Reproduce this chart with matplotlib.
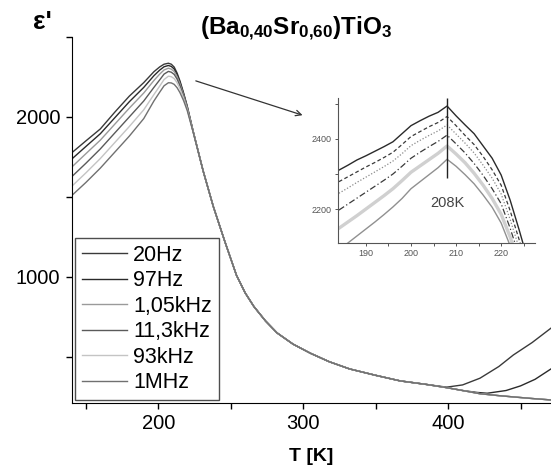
import matplotlib
matplotlib.use('Agg')
import matplotlib.pyplot as plt

plt.rcParams['font.family'] = ['Liberation Sans', 'DejaVu Sans']
plt.rcParams['mathtext.fontset'] = 'custom'
plt.rcParams['mathtext.rm'] = 'Liberation Sans'
plt.rcParams['mathtext.bf'] = 'Liberation Sans:bold'

# Main chart data: temperature [K] and permittivity per frequency
labels = ['20Hz', '97Hz', '1,05kHz', '11,3kHz', '93kHz', '1MHz']
colors = ['#3a3a3a', '#2a2a2a', '#9a9a9a', '#5a5a5a', '#c4c4c4', '#707070']

t_low = [140.7, 150, 160, 170, 180, 190, 197, 201, 204, 207, 209, 211, 213,
         215, 217.5, 220, 224]
eps_low = [
    [1779, 1850, 1925, 2030, 2130, 2215, 2283, 2313, 2330, 2336, 2330, 2312, 2275,
     2225, 2150, 2068, 1915],
    [1740, 1815, 1895, 1995, 2095, 2185, 2258, 2293, 2314, 2322, 2316, 2300, 2265,
     2217, 2144, 2064, 1913],
    [1690, 1770, 1855, 1955, 2055, 2150, 2228, 2268, 2294, 2305, 2299, 2284, 2252,
     2207, 2137, 2060, 1912],
    [1630, 1710, 1800, 1900, 2000, 2100, 2185, 2232, 2268, 2285, 2280, 2266, 2237,
     2195, 2130, 2055, 1911],
    [1570, 1650, 1740, 1840, 1940, 2045, 2140, 2193, 2234, 2255, 2252, 2240, 2214,
     2177, 2118, 2049, 1910],
    [1512, 1590, 1680, 1780, 1880, 1990, 2100, 2155, 2195, 2214, 2213, 2204, 2183,
     2152, 2102, 2040, 1908],
]

# common high-temperature branch
t_high = [231, 238, 246, 254, 260, 266, 274, 282, 293, 305, 318, 332, 350, 367,
          385, 399, 410, 422, 435, 445, 458, 471]
eps_high = [1662, 1440, 1220, 1010, 900, 815, 725, 650, 580, 523, 470, 425, 385,
            350, 328, 308, 290, 270, 258, 250, 240, 231]

# low-frequency rise above 400 K
t_rise1 = [399, 410, 422, 435, 445, 458, 471]
eps_rise1 = [311, 325, 367, 440, 512, 590, 680]
t_rise2 = [410, 420, 427, 440, 450, 460, 471]
eps_rise2 = [290, 278, 273, 290, 319, 360, 425]

# Inset data (zoom around the peak)
t_in = [184, 186, 188, 190, 192, 194, 196, 198, 200, 202, 204, 206, 208, 210,
        212, 214, 216, 218, 220, 222, 224, 226]
eps_in = [
    [2311, 2325, 2340, 2352, 2365, 2378, 2392, 2415, 2438, 2452, 2465, 2476, 2494,
     2466, 2440, 2415, 2380, 2345, 2297, 2225, 2140, 2050],
    [2278, 2292, 2306, 2320, 2333, 2347, 2362, 2384, 2407, 2421, 2435, 2447, 2464,
     2438, 2410, 2384, 2350, 2312, 2268, 2195, 2112, 2025],
    [2245, 2260, 2276, 2291, 2306, 2321, 2337, 2358, 2381, 2396, 2410, 2423, 2440,
     2414, 2388, 2360, 2325, 2288, 2243, 2170, 2088, 2000],
    [2197, 2214, 2231, 2248, 2265, 2282, 2300, 2322, 2345, 2362, 2378, 2393, 2411,
     2386, 2360, 2330, 2296, 2258, 2215, 2145, 2065, 1980],
    [2145, 2163, 2181, 2200, 2219, 2238, 2258, 2281, 2305, 2323, 2341, 2359, 2380,
     2357, 2332, 2302, 2268, 2230, 2185, 2120, 2040, 1960],
    [2085, 2103, 2123, 2143, 2163, 2184, 2206, 2230, 2258, 2278, 2298, 2318, 2342,
     2322, 2298, 2272, 2240, 2205, 2160, 2095, 2015, 1935],
]
inset_styles = [
    dict(color='#2a2a2a', lw=1.0, ls='-'),
    dict(color='#3a3a3a', lw=0.9, ls=(0, (3, 2))),
    dict(color='#8a8a8a', lw=0.9, ls=(0, (1, 1.5))),
    dict(color='#3a3a3a', lw=0.9, ls=(0, (5, 2, 1, 2))),
    dict(color='#d0d0d0', lw=2.4, ls='-'),
    dict(color='#909090', lw=1.0, ls='-'),
]
peak_T = 208
peak_line_bottom = 2289

fig = plt.figure(figsize=(5.51, 4.72), dpi=100)
ax = fig.add_axes([0.1307, 0.1462, 0.8693, 0.7754])

for i in range(6):
    t = t_low + t_high
    e = eps_low[i] + eps_high
    if i == 0:
        t = t_low + t_high[:15] + t_rise1
        e = eps_low[i] + eps_high[:15] + eps_rise1
    elif i == 1:
        t = t_low + t_high[:16] + t_rise2
        e = eps_low[i] + eps_high[:16] + eps_rise2
    ax.plot(t, e, color=colors[i], lw=1.0, label=labels[i])

ax.set_xlim(140.5, 471)
ax.set_ylim(212, 2500)
ax.spines['top'].set_visible(False)
ax.spines['right'].set_visible(False)
ax.set_xticks([200, 300, 400])
ax.set_xticks([150, 250, 350, 450], minor=True)
ax.set_yticks([1000, 2000])
ax.set_yticks([500, 1500, 2500], minor=True)
ax.tick_params(which='both', direction='out', length=4.5, width=1, labelsize=14.5)
ax.tick_params(axis='y', pad=4)
ax.set_xlabel('T [K]', fontsize=14, fontweight='bold', labelpad=11)

leg = ax.legend(loc='lower left', fontsize=15.5, frameon=True, fancybox=False,
                edgecolor='#222222', handlelength=2.1, handletextpad=0.3,
                labelspacing=0.21, borderpad=0.3, borderaxespad=0.15)
leg.get_frame().set_linewidth(1.0)

ax.annotate('', xy=(301.4, 2006), xytext=(224.1, 2231),
            arrowprops=dict(arrowstyle='->', color='#333333', lw=0.9))

fig.text(0.0762, 0.953, "ε'", fontsize=19, fontweight='bold', ha='center', va='center')
fig.text(0.537, 0.938, r'$\mathbf{(Ba_{0{,}40}Sr_{0{,}60})TiO_{3}}$', fontsize=17.5,
         ha='center', va='center')

# inset
axin = fig.add_axes([0.6134, 0.4852, 0.3575, 0.3072])
for i in range(6):
    axin.plot(t_in, eps_in[i], **inset_styles[i])
axin.vlines(peak_T, peak_line_bottom, 2517, color='#222222', lw=1.0)
axin.text(peak_T, 2217, '208K', fontsize=10.5, color='#444444', ha='center', va='center')
axin.set_xlim(183.8, 227.5)
axin.set_ylim(2103, 2517)
axin.patch.set_alpha(0)
for s in ['top', 'right']:
    axin.spines[s].set_visible(False)
for s in ['left', 'bottom']:
    axin.spines[s].set_color('#555555')
    axin.spines[s].set_linewidth(0.8)
axin.set_xticks([190, 200, 210, 220])
axin.set_xticks([195, 205, 215, 225], minor=True)
axin.set_yticks([2200, 2400])
axin.set_yticks([2300, 2500], minor=True)
axin.tick_params(which='both', direction='out', length=2.5, width=0.7,
                 labelsize=6.5, colors='#555555', pad=2)

fig.savefig('out.png', dpi=100)
